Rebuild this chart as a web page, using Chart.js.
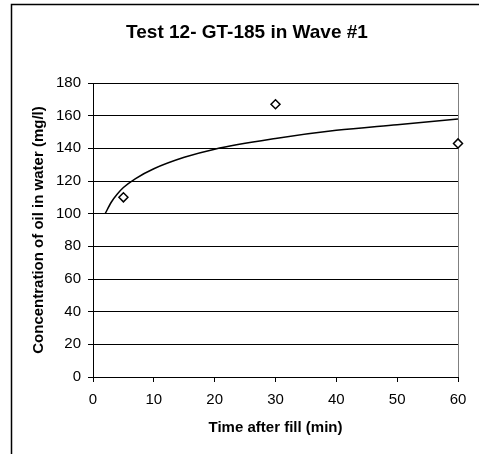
<!DOCTYPE html>
<html>
<head>
<meta charset="utf-8">
<script src="https://cdn.jsdelivr.net/npm/chart.js@4.4.1/dist/chart.umd.min.js"></script>
<style>
    html, body { margin: 0; padding: 0; background: #fff; }
    #chart { display: block; }
</style>
</head>
<body>
<canvas id="chart" width="479" height="454"></canvas>
<script>
    const chartTitle = 'Test 12- GT-185 in Wave #1';
    const xTitle = 'Time after fill (min)';
    const yTitle = 'Concentration of oil in water (mg/l)';

    // measured samples
    const sampleTimes = [5, 30, 60];
    const sampleValues = [110, 167, 143];

    // trend curve
    const trendTimes = [2, 3, 4, 5, 7, 10, 15, 20, 30, 40, 50, 60];
    const trendValues = [100, 107, 112, 116, 121.5, 127.5, 134.5, 139.5, 146, 151, 154.5, 158];

    const xTicks = [0, 10, 20, 30, 40, 50, 60];
    const yTicks = [0, 20, 40, 60, 80, 100, 120, 140, 160, 180];

    Chart.defaults.font.family = "'Liberation Sans', Arial, sans-serif";
    Chart.defaults.color = '#000';

    const toPoints = (xs, ys) => xs.map((x, i) => ({ x: x, y: ys[i] }));

    // outer frame (left and top edges only show in the picture) + title
    const framePlugin = {
        id: 'frame',
        beforeDraw(chart) {
            const c = chart.ctx;
            c.save();
            c.fillStyle = '#fff';
            c.fillRect(0, 0, chart.width, chart.height);
            c.strokeStyle = '#000';
            c.lineWidth = 1.5;
            c.beginPath();
            c.moveTo(11.5, chart.height);
            c.lineTo(11.5, 4.5);
            c.lineTo(chart.width, 4.5);
            c.stroke();
            c.restore();
        },
        afterDraw(chart) {
            const c = chart.ctx;
            c.save();
            c.font = "bold 19px 'Liberation Sans', Arial, sans-serif";
            c.fillStyle = '#000';
            c.textAlign = 'center';
            c.textBaseline = 'alphabetic';
            c.fillText(chartTitle, 247, 38);
            c.restore();
        }
    };

    const rightEdge = {
        id: 'rightEdge',
        beforeDatasetsDraw(chart) {
            const a = chart.chartArea, c = chart.ctx;
            c.save();
            c.strokeStyle = '#808080';
            c.lineWidth = 1;
            c.beginPath();
            c.moveTo(Math.round(a.right) + 0.5, a.top);
            c.lineTo(Math.round(a.right) + 0.5, a.bottom);
            c.stroke();
            c.restore();
        }
    };

    new Chart(document.getElementById('chart'), {
        type: 'scatter',
        data: {
            datasets: [
                {
                    label: 'Trend',
                    type: 'line',
                    data: toPoints(trendTimes, trendValues),
                    borderColor: '#000',
                    borderWidth: 1.5,
                    pointRadius: 0,
                    cubicInterpolationMode: 'monotone',
                    fill: false,
                    order: 2
                },
                {
                    label: 'Samples',
                    data: toPoints(sampleTimes, sampleValues),
                    pointStyle: 'rectRot',
                    pointRadius: 4.5,
                    pointBorderWidth: 1.5,
                    pointBorderColor: '#000',
                    pointBackgroundColor: '#fff',
                    clip: false,
                    order: 1
                }
            ]
        },
        options: {
            responsive: false,
            animation: false,
            layout: { padding: { top: 83, left: 20, right: 21, bottom: 0 } },
            plugins: {
                legend: { display: false },
                tooltip: { enabled: false }
            },
            scales: {
                x: {
                    type: 'linear',
                    min: 0,
                    max: 60,
                    afterBuildTicks: (s) => { s.ticks = xTicks.map(v => ({ value: v })); },
                    afterFit: (s) => { s.height = 77; },
                    ticks: { font: { size: 15 }, padding: 9, maxRotation: 0 },
                    grid: { drawOnChartArea: false, tickLength: 5, color: '#000' },
                    border: { color: '#000', width: 1 },
                    title: {
                        display: true,
                        text: xTitle,
                        font: { size: 15, weight: 'bold' },
                        padding: { top: 0, bottom: 17 }
                    }
                },
                y: {
                    min: 0,
                    max: 180,
                    afterBuildTicks: (s) => { s.ticks = yTicks.map(v => ({ value: v })); },
                    afterFit: (s) => { s.width = 73; },
                    ticks: { font: { size: 15 }, padding: 7 },
                    grid: { color: '#000', lineWidth: 1, tickLength: 5 },
                    border: { color: '#000', width: 1 },
                    title: {
                        display: true,
                        text: yTitle,
                        font: { size: 15, weight: 'bold' },
                        padding: { top: 10, bottom: 0 }
                    }
                }
            }
        },
        plugins: [framePlugin, rightEdge]
    });
</script>
</body>
</html>
